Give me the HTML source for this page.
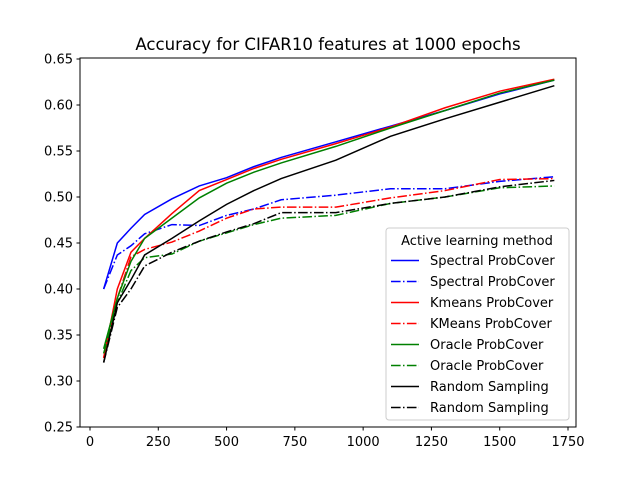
<!DOCTYPE html>
<html><head><meta charset="utf-8"><style>
body{margin:0;background:#fff}
svg{font-family:"DejaVu Sans","Liberation Sans",sans-serif}
</style></head><body>
<svg id="chart" width="640" height="480" xmlns="http://www.w3.org/2000/svg">
<rect width="640" height="480" fill="#fff"/>
<text x="328" y="50" text-anchor="middle" font-size="16.6">Accuracy for CIFAR10 features at 1000 epochs</text>
<g id="plot"></g>
<rect x="80" y="58" width="496" height="369" fill="none" stroke="#000" stroke-width="1"/>
<g id="axes"></g>
<g id="legend"></g>
</svg>
<script>
const xVals=[50,100,150,200,300,400,500,600,700,900,1100,1300,1500,1700];
const spectralSolid=[0.40,0.45,0.466,0.481,0.498,0.512,0.521,0.533,0.543,0.560,0.577,0.594,0.612,0.627];
const spectralDash=[0.40,0.437,0.447,0.46,0.47,0.469,0.48,0.487,0.497,0.502,0.509,0.509,0.517,0.522];
const kmeansSolid=[0.325,0.40,0.44,0.455,0.482,0.507,0.519,0.531,0.541,0.558,0.576,0.597,0.615,0.628];
const kmeansDash=[0.325,0.39,0.435,0.443,0.451,0.463,0.477,0.487,0.489,0.489,0.499,0.507,0.519,0.52];
const oracleSolid=[0.335,0.39,0.43,0.455,0.477,0.499,0.515,0.527,0.537,0.555,0.575,0.594,0.613,0.627];
const oracleDash=[0.33,0.385,0.42,0.434,0.438,0.452,0.461,0.47,0.477,0.48,0.493,0.5,0.51,0.512];
const randomSolid=[0.32,0.385,0.41,0.437,0.455,0.474,0.492,0.507,0.52,0.54,0.566,0.585,0.603,0.621];
const randomDash=[0.32,0.38,0.40,0.425,0.44,0.452,0.462,0.471,0.483,0.483,0.493,0.5,0.511,0.518];
const xTicks=[0,250,500,750,1000,1250,1500,1750];
const yTicks=[0.25,0.30,0.35,0.40,0.45,0.50,0.55,0.60,0.65];
const seriesNames=["Spectral ProbCover","Spectral ProbCover","Kmeans ProbCover","KMeans ProbCover","Oracle ProbCover","Oracle ProbCover","Random Sampling","Random Sampling"];
const seriesData=[spectralSolid,spectralDash,kmeansSolid,kmeansDash,oracleSolid,oracleDash,randomSolid,randomDash];
const seriesColors=["#0000ff","#0000ff","#ff0000","#ff0000","#008000","#008000","#000000","#000000"];
const seriesDash=[false,true,false,true,false,true,false,true];
const NS="http://www.w3.org/2000/svg";
const sx=v=>90+v*(478/1750);
const sy=v=>427-(v-0.25)*(368/0.40);
function mk(t,a,p){const e=document.createElementNS(NS,t);for(const k in a)e.setAttribute(k,a[k]);p.appendChild(e);return e;}
const plot=document.getElementById('plot'),axes=document.getElementById('axes'),leg=document.getElementById('legend');
const DA="9.6,2.4,1.5,2.4";
seriesData.forEach((s,i)=>{
 const p=mk('polyline',{points:s.map((v,j)=>sx(xVals[j])+','+sy(v)).join(' '),fill:'none',stroke:seriesColors[i],'stroke-width':1.5,'stroke-dasharray':seriesDash[i]?DA:'none'},plot);
 
 
});
xTicks.forEach(t=>{
 const x=sx(t);
 mk('line',{x1:x,x2:x,y1:427,y2:430.5,stroke:'#000'},axes);
 const tx=mk('text',{x:x,y:446,'text-anchor':'middle','font-size':13},axes);tx.textContent=t;
 
 
});
yTicks.forEach(t=>{
 const y=sy(t);
 mk('line',{x1:76.5,x2:80,y1:y,y2:y,stroke:'#000'},axes);
 const tx=mk('text',{x:73,y:y+4.5,'text-anchor':'end','font-size':13},axes);tx.textContent=t.toFixed(2);
 
 
});
mk('rect',{x:386,y:228,width:183,height:192,rx:3,fill:'#fff','fill-opacity':0.8,stroke:'#ccc'},leg);
const lt=mk('text',{x:477,y:245,'text-anchor':'middle','font-size':13},leg);lt.textContent="Active learning method";
seriesNames.forEach((n,i)=>{
 const y=260.5+i*21;
 const g=mk('g',{},leg);
 
 
 mk('line',{x1:391,x2:419,y1:y,y2:y,stroke:seriesColors[i],'stroke-width':1.5,'stroke-dasharray':seriesDash[i]?DA:'none'},g);
 const t=mk('text',{x:430,y:y+4.5,'font-size':13},g);t.textContent=n;
});
</script>
</body></html>
